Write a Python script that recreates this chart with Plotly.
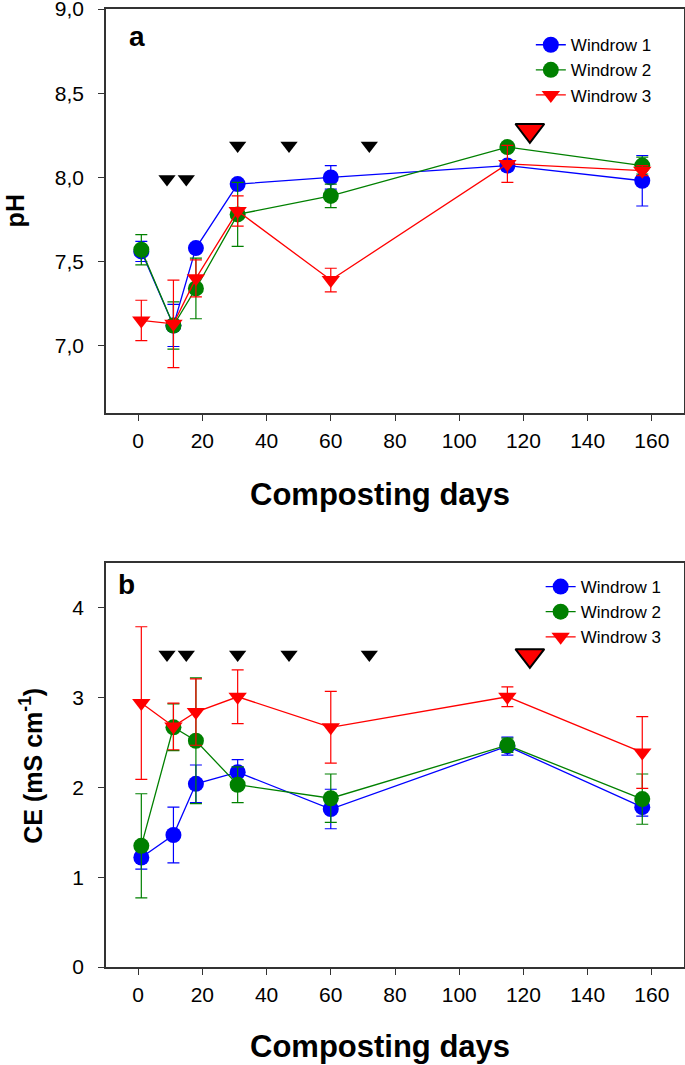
import plotly.graph_objects as go
from plotly.subplots import make_subplots

days = [1, 11, 18, 31, 60, 115, 157]

ph_w1 = [7.56, 7.12, 7.58, 7.96, 8.00, 8.07, 7.98]
ph_w1_err = [0.06, 0.125, 0.02, 0.02, 0.07, 0.03, 0.15]
ph_w2 = [7.57, 7.12, 7.34, 7.78, 7.89, 8.18, 8.07]
ph_w2_err = [0.09, 0.14, 0.18, 0.19, 0.07, 0.02, 0.05]
ph_w3 = [7.15, 7.13, 7.40, 7.80, 7.39, 8.08, 8.04]
ph_w3_err = [0.12, 0.26, 0.11, 0.09, 0.07, 0.11, 0.03]

ce_w1 = [1.22, 1.47, 2.04, 2.17, 1.76, 2.46, 1.78]
ce_w1_err = [0.13, 0.31, 0.21, 0.14, 0.22, 0.10, 0.10]
ce_w2 = [1.35, 2.67, 2.52, 2.03, 1.88, 2.47, 1.87]
ce_w2_err = [0.58, 0.26, 0.70, 0.20, 0.27, 0.08, 0.28]
ce_w3 = [2.94, 2.68, 2.84, 3.01, 2.67, 3.01, 2.39]
ce_w3_err = [0.85, 0.26, 0.37, 0.30, 0.40, 0.11, 0.40]

turn_days = [9, 15, 31, 47, 72]
turn_ph = [7.99, 7.99, 8.19, 8.19, 8.19]
turn_ce = [3.48, 3.48, 3.48, 3.48, 3.48]
final_day = [122]
final_ph = [8.28]
final_ce = [3.47]

x_ticks = [0, 20, 40, 60, 80, 100, 120, 140, 160]
ph_ticks = [7.0, 7.5, 8.0, 8.5, 9.0]
ph_ticktext = ["7,0", "7,5", "8,0", "8,5", "9,0"]
ce_ticks = [0, 1, 2, 3, 4]

names = ["Windrow 1", "Windrow 2", "Windrow 3"]
colors = ["#0000ff", "#008000", "#ff0000"]
symbols = ["circle", "circle", "triangle-down"]

FONT = "Liberation Sans, Arial"

fig = make_subplots(rows=2, cols=1, vertical_spacing=0.1566)

ph_sets = [(ph_w1, ph_w1_err), (ph_w2, ph_w2_err), (ph_w3, ph_w3_err)]
ce_sets = [(ce_w1, ce_w1_err), (ce_w2, ce_w2_err), (ce_w3, ce_w3_err)]

for row, sets, leg in [(1, ph_sets, "legend"), (2, ce_sets, "legend2")]:
    for i, (vals, errs) in enumerate(sets):
        fig.add_trace(go.Scatter(
            x=days, y=vals, mode="lines+markers", name=names[i],
            line=dict(color=colors[i], width=1.3),
            marker=dict(color=colors[i], symbol=symbols[i], size=16),
            error_y=dict(type="data", array=errs, color=colors[i], thickness=1.2, width=6),
            legend=leg, showlegend=True,
        ), row=row, col=1)

for row, yv, yf in [(1, turn_ph, final_ph), (2, turn_ce, final_ce)]:
    fig.add_trace(go.Scatter(
        x=turn_days, y=yv, mode="markers", showlegend=False,
        marker=dict(color="black", symbol="triangle-down", size=15),
    ), row=row, col=1)
    fig.add_trace(go.Scatter(
        x=final_day, y=yf, mode="markers", showlegend=False,
        marker=dict(color="#ff0000", symbol="triangle-down", size=25,
                    line=dict(color="black", width=2)),
    ), row=row, col=1)

axis_common = dict(showline=True, mirror=True, linecolor="#333333", linewidth=1.5,
                   ticks="outside", ticklen=6, tickcolor="#333333", tickwidth=1.2,
                   showgrid=False, zeroline=False, automargin=False,
                   ticklabeloverflow="allow",
                   tickfont=dict(family=FONT, size=21, color="black"))

for r in [1, 2]:
    fig.update_xaxes(range=[-10, 170], tickvals=x_ticks, ticklabelstandoff=2,
                     row=r, col=1, **axis_common)

fig.update_yaxes(range=[6.6, 9.0005], tickvals=ph_ticks, ticktext=ph_ticktext,
                 ticklabelstandoff=10, row=1, col=1, **axis_common)
fig.update_yaxes(range=[0, 4.5], tickvals=ce_ticks, ticklabelstandoff=10,
                 row=2, col=1, **axis_common)

title_font = dict(family=FONT, size=31, color="black")
ytitle_font = dict(family=FONT, size=25, color="black")


def ann(text, x, y, font, angle=0):
    return dict(text=text, x=x, y=y, xref="paper", yref="paper", showarrow=False,
                xanchor="center", yanchor="middle", textangle=angle, font=font)


fig.update_layout(
    width=685, height=1065,
    margin=dict(l=106, r=1, t=9, b=98, autoexpand=False),
    plot_bgcolor="white", paper_bgcolor="white",
    font=dict(family=FONT, color="black"),
    legend=dict(x=0.735, y=0.981, xanchor="left", yanchor="top",
                font=dict(size=17), bgcolor="rgba(0,0,0,0)", tracegroupgap=0),
    legend2=dict(x=0.752, y=0.4154, xanchor="left", yanchor="top",
                 font=dict(size=17), bgcolor="rgba(0,0,0,0)", tracegroupgap=0),
    annotations=[
        ann("<b>a</b>", 0.054, 0.971, dict(family=FONT, size=28, color="black")),
        ann("<b>b</b>", 0.036, 0.399, dict(family=FONT, size=28, color="black")),
        ann("<b>Composting days</b>", 0.474, 0.4927, title_font),
        ann("<b>Composting days</b>", 0.474, -0.0835, title_font),
        ann("<b>pH</b>", -0.157, 0.789, ytitle_font, -90),
        ann("<b>CE (mS cm<sup>-1</sup>)</b>", -0.13, 0.21, ytitle_font, -90),
    ],
)

fig.write_html("out.html", config={"displayModeBar": False},
               post_script="document.body.style.margin='0px';")
